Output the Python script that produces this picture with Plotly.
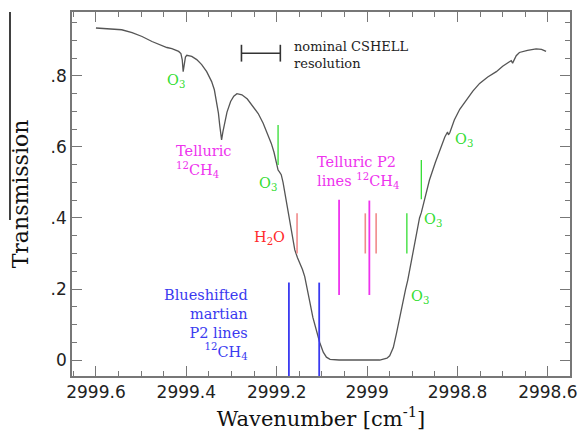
import plotly.graph_objects as go

# ---- data ----
wavenumber = [2999.600, 2999.543, 2999.520, 2999.498, 2999.476, 2999.460, 2999.443, 2999.432,
              2999.417, 2999.412, 2999.409, 2999.407, 2999.405, 2999.402, 2999.399, 2999.388,
              2999.377, 2999.366, 2999.355, 2999.344, 2999.338, 2999.333, 2999.329, 2999.326,
              2999.322, 2999.319, 2999.315, 2999.310, 2999.302, 2999.295, 2999.288, 2999.277,
              2999.265, 2999.253, 2999.241, 2999.230, 2999.220, 2999.212, 2999.206, 2999.201,
              2999.197, 2999.194, 2999.190, 2999.186, 2999.182, 2999.176, 2999.171, 2999.165,
              2999.160, 2999.154, 2999.148, 2999.143, 2999.138, 2999.134, 2999.127, 2999.120,
              2999.112, 2999.105, 2999.097, 2999.090, 2999.082, 2999.072, 2999.062, 2998.972,
              2998.962, 2998.956, 2998.950, 2998.942, 2998.935, 2998.928, 2998.921, 2998.915,
              2998.910, 2998.904, 2998.899, 2998.893, 2998.888, 2998.884, 2998.880, 2998.871,
              2998.862, 2998.849, 2998.836, 2998.828, 2998.822, 2998.820, 2998.817, 2998.812,
              2998.807, 2998.795, 2998.781, 2998.766, 2998.751, 2998.733, 2998.714, 2998.700,
              2998.685, 2998.681, 2998.678, 2998.675, 2998.670, 2998.663, 2998.645, 2998.626,
              2998.614, 2998.604]
transmission = [0.935, 0.930, 0.922, 0.911, 0.897, 0.889, 0.880, 0.877,
                0.869, 0.863, 0.845, 0.812, 0.836, 0.853, 0.858, 0.855,
                0.846, 0.832, 0.812, 0.784, 0.761, 0.730, 0.695, 0.660,
                0.620, 0.643, 0.672, 0.698, 0.728, 0.743, 0.750, 0.747,
                0.735, 0.716, 0.694, 0.667, 0.637, 0.610, 0.585, 0.555,
                0.535, 0.530, 0.522, 0.500, 0.470, 0.430, 0.390, 0.345,
                0.310, 0.288, 0.272, 0.255, 0.235, 0.212, 0.165, 0.120,
                0.080, 0.050, 0.022, 0.008, 0.002, 0.000, 0.000, 0.000,
                0.002, 0.005, 0.012, 0.035, 0.075, 0.120, 0.165, 0.198,
                0.225, 0.265, 0.305, 0.345, 0.378, 0.400, 0.415, 0.462,
                0.507, 0.556, 0.601, 0.628, 0.642, 0.634, 0.640, 0.660,
                0.676, 0.706, 0.732, 0.757, 0.779, 0.797, 0.812, 0.827,
                0.840, 0.843, 0.836, 0.846, 0.857, 0.866, 0.872, 0.876,
                0.875, 0.869]

# line markers: position, bottom, top
o3_mark_w = [2999.197, 2998.912, 2998.880]
o3_mark_lo = [0.549, 0.300, 0.453]
o3_mark_hi = [0.662, 0.413, 0.563]
h2o_mark_w = [2999.155, 2999.004, 2998.980]
h2o_mark_lo = [0.300, 0.300, 0.300]
h2o_mark_hi = [0.413, 0.413, 0.413]
ch4_mark_w = [2999.062, 2998.995]
ch4_mark_lo = [0.183, 0.183]
ch4_mark_hi = [0.451, 0.449]
mars_mark_w = [2999.173, 2999.106]
mars_mark_lo = [-0.045, -0.045]
mars_mark_hi = [0.218, 0.218]

resolution_w = [2999.278, 2999.192]
resolution_t = [0.864, 0.864]

x_range = [2999.653, 2998.551]
y_range = [-0.045, 0.98]
x_ticks = [2999.6, 2999.4, 2999.2, 2999.0, 2998.8, 2998.6]
x_ticklabels = ["2999.6", "2999.4", "2999.2", "2999", "2998.8", "2998.6"]
y_ticks = [0, 0.2, 0.4, 0.6, 0.8]
y_ticklabels = ["0", ".2", ".4", ".6", ".8"]

SERIF = "DejaVu Serif"
GREEN = "#33dd33"
MAGENTA = "#ee33ee"
SALMON = "#f08a8a"
RED = "#ff2a2a"
BLUE = "#3a3af0"


def segs(ws, lo, hi):
    xs, ys = [], []
    for w, a, b in zip(ws, lo, hi):
        xs += [w, w, None]
        ys += [a, b, None]
    return xs, ys


fig = go.Figure()
fig.add_trace(go.Scatter(x=wavenumber, y=transmission, mode="lines",
                         line=dict(color="#555555", width=1.3),
                         hoverinfo="skip"))
for ws, lo, hi, col, wd in [(o3_mark_w, o3_mark_lo, o3_mark_hi, GREEN, 1.3),
                            (h2o_mark_w, h2o_mark_lo, h2o_mark_hi, SALMON, 1.6),
                            (ch4_mark_w, ch4_mark_lo, ch4_mark_hi, MAGENTA, 1.8),
                            (mars_mark_w, mars_mark_lo, mars_mark_hi, BLUE, 1.8)]:
    xs, ys = segs(ws, lo, hi)
    fig.add_trace(go.Scatter(x=xs, y=ys, mode="lines", line=dict(color=col, width=wd),
                             hoverinfo="skip"))
fig.add_trace(go.Scatter(x=resolution_w, y=resolution_t, mode="lines+markers",
                         line=dict(color="#333333", width=1.6),
                         marker=dict(symbol="line-ns", size=12, line=dict(color="#333333", width=1.6)),
                         hoverinfo="skip"))

ann = [
    dict(x=2999.423, y=0.786, text="O<sub>3</sub>", color=GREEN, xa="center", al="center"),
    dict(x=2999.220, y=0.496, text="O<sub>3</sub>", color=GREEN, xa="center", al="center"),
    dict(x=2998.785, y=0.620, text="O<sub>3</sub>", color=GREEN, xa="center", al="center"),
    dict(x=2998.855, y=0.394, text="O<sub>3</sub>", color=GREEN, xa="center", al="center"),
    dict(x=2998.884, y=0.177, text="O<sub>3</sub>", color=GREEN, xa="center", al="center"),
    dict(x=2999.428, y=0.558, text="Telluric<br><sup>12</sup>CH<sub>4</sub>", color=MAGENTA, xa="left", al="left"),
    dict(x=2999.116, y=0.527, text="Telluric P2<br>lines <sup>12</sup>CH<sub>4</sub>", color=MAGENTA, xa="left", al="left"),
    dict(x=2999.215, y=0.344, text="H<sub>2</sub>O", color=RED, xa="center", al="center"),
    dict(x=2999.260, y=0.100, text="Blueshifted<br>martian<br>P2 lines<br><sup>12</sup>CH<sub>4</sub>", color=BLUE, xa="right", al="right"),
]
for a in ann:
    fig.add_annotation(x=a["x"], y=a["y"], text=a["text"], showarrow=False,
                       xanchor=a["xa"], yanchor="middle", align=a["al"],
                       font=dict(family=SERIF, size=14.5, color=a["color"]))
fig.add_annotation(x=2999.167, y=0.859, text="nominal CSHELL<br>resolution", showarrow=False,
                   xanchor="left", yanchor="middle", align="left",
                   font=dict(family=SERIF, size=13, color="#222222"))

# stray crop line at the far left of the source image
fig.add_shape(type="line", xref="paper", yref="paper", x0=-0.1245, x1=-0.1245, y0=1.0, y1=0.4286,
              line=dict(color="black", width=1.5))

axis_common = dict(showline=True, linecolor="#777777", linewidth=1.5, mirror="ticks",
                   ticks="inside", ticklen=10, tickwidth=1.3, tickcolor="#777777",
                   showgrid=False, zeroline=False, automargin=False,
                   tickfont=dict(family="DejaVu Sans", size=17, color="#222222"))
fig.update_xaxes(range=x_range, tickvals=x_ticks, ticktext=x_ticklabels,
                 minor=dict(dtick=0.05, ticks="inside", ticklen=5, tickwidth=1.2, tickcolor="#777777", showgrid=False),
                 title=dict(text="Wavenumber [cm<sup>-1</sup>]", font=dict(family=SERIF, size=21, color="#111111"), standoff=12),
                 **axis_common)
fig.update_yaxes(range=y_range, tickvals=y_ticks, ticktext=y_ticklabels,
                 minor=dict(dtick=0.05, tick0=0, ticks="inside", ticklen=5, tickwidth=1.2, tickcolor="#777777", showgrid=False),
                 title=dict(text="Transmission", font=dict(family=SERIF, size=22, color="#111111"), standoff=16),
                 **axis_common)
fig.update_layout(width=579, height=431, margin=dict(l=72, r=9, t=12, b=55),
                  paper_bgcolor="white", plot_bgcolor="white", showlegend=False)
fig.write_html("out.html")
